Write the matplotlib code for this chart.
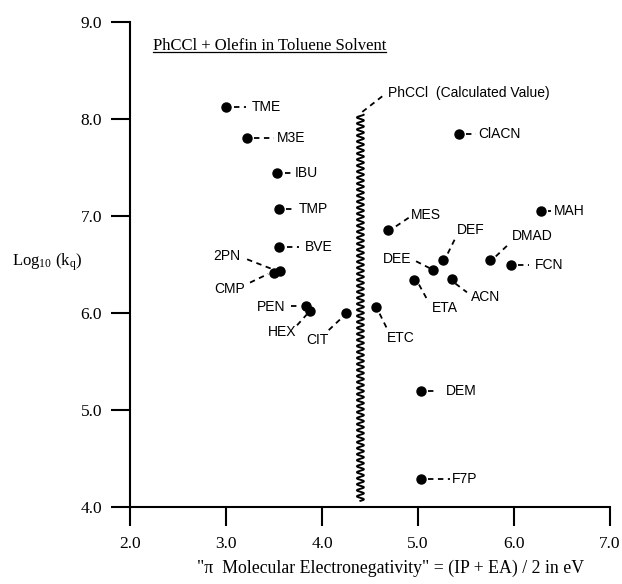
import numpy as np
import matplotlib
matplotlib.use('Agg')
import matplotlib.pyplot as plt
from matplotlib.lines import Line2D
from matplotlib.transforms import IdentityTransform

plt.rcParams['mathtext.fontset'] = 'custom'
plt.rcParams['mathtext.rm'] = 'Liberation Serif'
plt.rcParams['mathtext.it'] = 'Liberation Serif:italic'

# olefins: pi molecular electronegativity [eV] vs log10(kq)
names = ['TME', 'M3E', 'IBU', 'TMP', 'BVE', '2PN', 'CMP', 'PEN', 'HEX', 'CIT', 'ETC',
         'MES', 'ClACN', 'MAH', 'DEF', 'DEE', 'ETA', 'ACN', 'DMAD', 'FCN', 'DEM', 'F7P']
chi = [3.00, 3.22, 3.53, 3.55, 3.55, 3.56, 3.50, 3.83, 3.87, 4.25, 4.56,
       4.69, 5.43, 6.28, 5.26, 5.16, 4.96, 5.35, 5.75, 5.97, 5.03, 5.03]
logkq = [8.12, 7.80, 7.44, 7.07, 6.68, 6.43, 6.41, 6.07, 6.02, 6.00, 6.06,
         6.85, 7.84, 7.05, 6.54, 6.44, 6.34, 6.35, 6.54, 6.49, 5.19, 4.29]

# carbene calculated value
phccl_chi = 4.40
phccl_span = [4.06, 8.04]

xticks = [2.0, 3.0, 4.0, 5.0, 6.0, 7.0]
yticks = [4.0, 5.0, 6.0, 7.0, 8.0, 9.0]

# label placement: text x, text y, ha, leader start, leader end
label_pos = {
    'TME': (3.27, 8.12, 'left', (3.08, 8.12), (3.21, 8.12)),
    'M3E': (3.53, 7.80, 'left', (3.29, 7.80), (3.50, 7.80)),
    'IBU': (3.72, 7.44, 'left', (3.61, 7.44), (3.69, 7.44)),
    'TMP': (3.76, 7.07, 'left', (3.63, 7.07), (3.71, 7.07)),
    'BVE': (3.82, 6.68, 'left', (3.64, 6.68), (3.76, 6.68)),
    '2PN': (3.15, 6.58, 'right', (3.22, 6.55), (3.48, 6.45)),
    'CMP': (3.20, 6.24, 'right', (3.25, 6.31), (3.44, 6.40)),
    'PEN': (3.62, 6.06, 'right', (3.68, 6.07), (3.76, 6.07)),
    'HEX': (3.58, 5.80, 'center', (3.74, 5.87), (3.84, 5.98)),
    'CIT': (3.95, 5.72, 'center', (4.07, 5.82), (4.22, 5.96)),
    'ETC': (4.82, 5.74, 'center', (4.60, 5.99), (4.68, 5.83)),
    'MES': (4.93, 7.01, 'left', (4.77, 6.89), (4.92, 6.99)),
    'ClACN': (5.63, 7.84, 'left', (5.50, 7.84), (5.60, 7.84)),
    'MAH': (6.42, 7.05, 'left', (6.35, 7.05), (6.39, 7.05)),
    'DEF': (5.40, 6.85, 'left', (5.31, 6.61), (5.39, 6.77)),
    'DEE': (4.93, 6.55, 'right', (4.98, 6.53), (5.12, 6.46)),
    'ETA': (5.28, 6.05, 'center', (5.01, 6.29), (5.11, 6.11)),
    'ACN': (5.55, 6.16, 'left', (5.39, 6.30), (5.51, 6.21)),
    'DMAD': (5.98, 6.79, 'left', (5.81, 6.58), (5.96, 6.72)),
    'FCN': (6.22, 6.49, 'left', (6.04, 6.49), (6.16, 6.49)),
    'DEM': (5.29, 5.19, 'left', (5.10, 5.19), (5.20, 5.19)),
    'F7P': (5.35, 4.29, 'left', (5.10, 4.29), (5.33, 4.29)),
}

serif = 'Liberation Serif'
sans = 'Liberation Sans'
dash = (0, (3, 2.5))

fig = plt.figure(figsize=(6.22, 5.84), dpi=100)
ax = fig.add_axes([0.209, 0.1324, 0.7717, 0.8305])
ax.set_xlim(2.0, 7.0)
ax.set_ylim(4.0, 9.0)
ax.spines['top'].set_visible(False)
ax.spines['right'].set_visible(False)
ax.spines['left'].set_linewidth(1.5)
ax.spines['bottom'].set_linewidth(1.5)
ax.set_xticks(xticks)
ax.set_yticks(yticks)
ax.set_xticklabels(['%.1f' % v for v in xticks], family=serif, fontsize=12.5)
ax.set_yticklabels(['%.1f' % v for v in yticks], family=serif, fontsize=12.5)
ax.tick_params(axis='both', direction='out', length=14, width=1.5)
ax.tick_params(axis='x', pad=7)
ax.tick_params(axis='y', pad=6)

ax.plot(chi, logkq, 'o', color='k', markersize=6.5, clip_on=False, zorder=3)

for n in names:
    tx, ty, ha, p0, p1 = label_pos[n]
    ax.plot([p0[0], p1[0]], [p0[1], p1[1]], color='k', linestyle=dash, linewidth=1.3)
    ax.text(tx, ty, n, family=sans, fontsize=10, ha=ha, va='center')

# wavy marker for the calculated PhCCl value
wy = np.linspace(phccl_span[0], phccl_span[1], 3000)
wx = phccl_chi + 0.036 * np.sin(2 * np.pi * (wy - phccl_span[0]) / 0.062)
ax.plot(wx, wy, color='k', linewidth=1.4)
ax.plot([4.42, 4.64], [8.07, 8.24], color='k', linestyle=dash, linewidth=1.3)
ax.text(4.69, 8.26, 'PhCCl  (Calculated Value)', family=sans, fontsize=10,
        ha='left', va='center')

title = ax.text(2.24, 8.71, 'PhCCl + Olefin in Toluene Solvent', family=serif,
                fontsize=12, ha='left', va='baseline')

fig.text(391 / 622, 1 - 568 / 584,
         '"\u03c0  Molecular Electronegativity" = (IP + EA) / 2 in eV',
         family=serif, fontsize=12.8, ha='center', va='center')
fig.text(12 / 622, 1 - 262 / 584, r'Log$_{\mathrm{10}}$ (k$_{\mathrm{q}}$)',
         family=serif, fontsize=12, ha='left', va='center')

# underline the title
fig.canvas.draw()
bb = title.get_window_extent()
base = ax.transData.transform((2.24, 8.71))[1]
fig.add_artist(Line2D([bb.x0, bb.x1], [base - 2.5, base - 2.5], color='k',
                      linewidth=0.9, transform=IdentityTransform()))

fig.savefig('out.png', dpi=100)
